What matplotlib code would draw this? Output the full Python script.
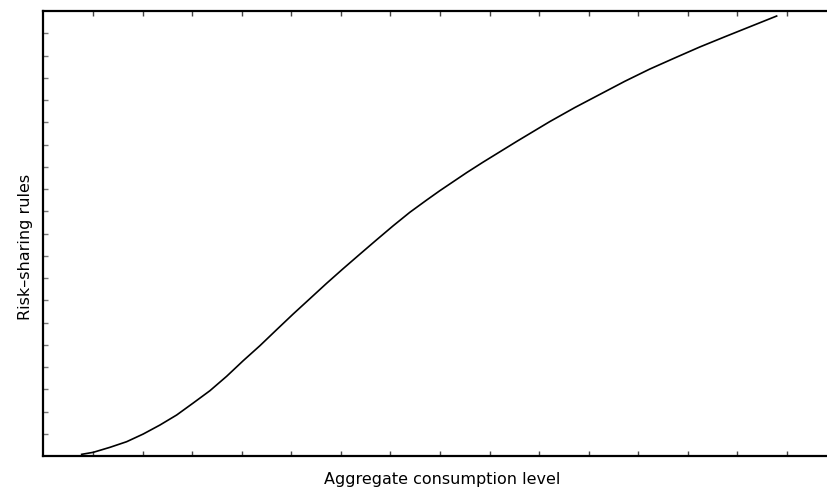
import matplotlib
matplotlib.use("Agg")
import matplotlib.pyplot as plt

# curve (x in tick units, y in tick units)
consumo = [0.772, 1.006, 1.343, 1.679, 2.014, 2.351, 2.688, 3.022, 3.359,
           3.696, 4.030, 4.367, 4.704, 5.038, 5.375, 5.712, 6.046, 6.383,
           6.720, 7.054, 7.391, 7.728, 7.996, 8.540, 8.863, 9.548, 10.214,
           10.718, 11.222, 11.726, 12.230, 12.734, 13.238, 13.742, 14.246,
           14.790]
regras = [0.076, 0.166, 0.391, 0.643, 0.989, 1.393, 1.843, 2.382, 2.935,
          3.582, 4.283, 4.957, 5.676, 6.382, 7.070, 7.760, 8.420, 9.070,
          9.715, 10.345, 10.953, 11.500, 11.924, 12.740, 13.200, 14.140,
          15.030, 15.660, 16.250, 16.840, 17.390, 17.890, 18.382, 18.840,
          19.290, 19.775]

xticks = list(range(1, 16))
yticks = list(range(1, 20))

fig = plt.figure(figsize=(8.28, 4.89), dpi=100)
ax = fig.add_axes([0.0524, 0.0654, 0.958, 0.910])

ax.plot(consumo, regras, color="black", linewidth=1.2)
ax.set_xlim(0, 16)
ax.set_ylim(0, 20)

ax.set_xticks(xticks)
ax.set_yticks(yticks)
ax.set_xticklabels([])
ax.set_yticklabels([])
ax.tick_params(axis="x", direction="in", length=3.5, width=1, color="#444444",
               top=True, bottom=True)
ax.tick_params(axis="y", direction="in", length=3.5, width=1, color="#777777",
               left=True, right=False)

for lado in ["left", "bottom", "top"]:
    ax.spines[lado].set_linewidth(1.6)
ax.spines["right"].set_visible(False)

fig.text(442 / 828, 1 - 480 / 489, "Aggregate consumption level",
         ha="center", va="center", fontsize=11.5, family="DejaVu Sans")
fig.text(26 / 828, 1 - 247 / 489, "Risk\u2013sharing rules", rotation=90,
         ha="center", va="center", fontsize=11.5, family="DejaVu Sans")

fig.savefig("out.png", dpi=100)
